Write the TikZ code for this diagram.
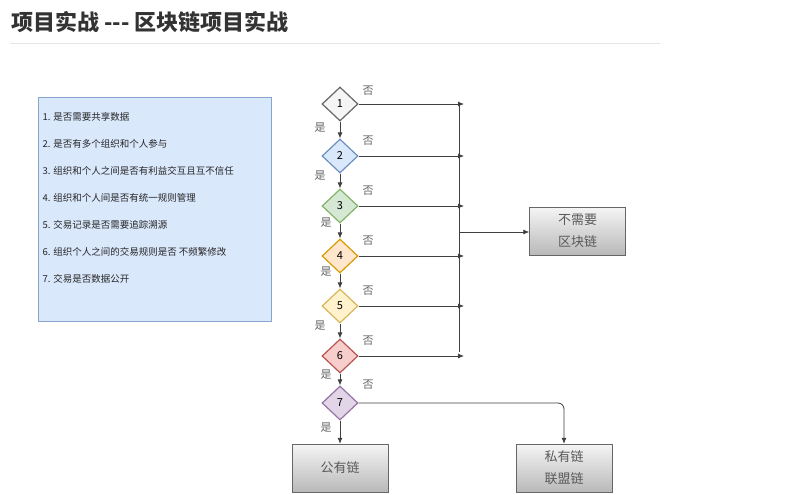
\documentclass[tikz,border=0pt]{standalone}
\usepackage{fontspec}
\setmainfont{Noto Sans CJK SC}
\newfontfamily\cjk{Noto Sans CJK SC}
\usetikzlibrary{shapes.geometric,arrows.meta}
\definecolor{c1f}{HTML}{F5F5F5}\definecolor{c1d}{HTML}{666666}
\definecolor{c2f}{HTML}{DAE8FC}\definecolor{c2d}{HTML}{6C8EBF}
\definecolor{c3f}{HTML}{D5E8D4}\definecolor{c3d}{HTML}{82B366}
\definecolor{c4f}{HTML}{FFE6CC}\definecolor{c4d}{HTML}{D79B00}
\definecolor{c5f}{HTML}{FFF2CC}\definecolor{c5d}{HTML}{D6B656}
\definecolor{c6f}{HTML}{F8CECC}\definecolor{c6d}{HTML}{B85450}
\definecolor{c7f}{HTML}{E1D5E7}\definecolor{c7d}{HTML}{9673A6}
\begin{document}
\begin{tikzpicture}[>={Latex[length=6pt,width=5pt]}, x=1pt, y=-1pt]

\tikzstyle{dia}=[diamond, draw, line width=1.2pt, minimum width=36pt, minimum height=34pt, inner sep=0pt, font=\fontsize{11}{11}\selectfont]
\tikzstyle{endbox}=[draw=c1d, top color=c1f, bottom color=gray!55, minimum width=96pt, minimum height=48pt, align=center, font=\fontsize{13}{22}\selectfont, text=black!65]
\tikzstyle{arrow}=[->, draw=black!75, line width=0.8pt]
\tikzstyle{lbl}=[font=\fontsize{11}{11}\selectfont, text=black!60]

\useasboundingbox (0,0) rectangle (787,495);
\fill[white] (0,0) rectangle (787,495);

% Title
\node[anchor=west, font=\bfseries\fontsize{22}{22}\selectfont, text=black!80] (title) at (8,22) {项目实战 -{}-{}- 区块链项目实战};
\draw[black!10] (10,43) -- (660,43);

% Question list
\node[draw=c2d!80, fill=c2f, minimum width=233pt, minimum height=224pt] (list) at (154.5,209) {};
\foreach \t [count=\i] in {是否需要共享数据, 是否有多个组织和个人参与, 组织和个人之间是否有利益交互且互不信任, 组织和个人间是否有统一规则管理, 交易记录是否需要追踪溯源, 组织个人之间的交易规则是否 不频繁修改, 交易是否数据公开}
  \node[anchor=west, font=\fontsize{9.5}{10}\selectfont, text=black!85] (q\i) at (39,90+27*\i) {\i. \t};

% Decisions
\foreach \n/\y in {1/104, 2/156, 3/206, 4/256, 5/306, 6/356, 7/403}
  \node[dia, fill=c\n f, draw=c\n d] (d\n) at (340,\y) {\n};

% Boxes
\node[endbox] (no) at (577.5,231) {不需要\\区块链};
\node[endbox] (pub) at (340,468) {公有链};
\node[endbox] (priv) at (564,468) {私有链\\联盟链};

% Bus
\coordinate (bt) at (459,104);
\coordinate (bb) at (459,352);
\coordinate (bm) at (459,232);
\draw[draw=black!75, line width=0.8pt] (bt) -- (bb);
\draw[arrow] (bm) -- (no.west |- bm);

% Yes / no connectors
\foreach \a/\b in {1/2, 2/3, 3/4, 4/5, 5/6, 6/7}
  \draw[arrow] (d\a) -- (d\b);
\draw[arrow] (d7) -- (pub);
\foreach \n in {1,...,6}
  \draw[arrow] (d\n.east) -- (d\n.east -| 464,0);
\draw[arrow, rounded corners=6pt] (d7.east) -- (priv.north |- d7.east) -- (priv.north);

% Labels
\foreach \n in {1,...,7}
  \node[lbl] (n\n) at (368,{\n==7 ? 385 : 91+50*(\n-1)}) {否};
\foreach \n/\x/\y in {1/320/128, 2/320/176, 3/326/223, 4/326/272, 5/320/326, 6/326/375, 7/326/428}
  \node[lbl] (y\n) at (\x,\y) {是};

\end{tikzpicture}
\end{document}
